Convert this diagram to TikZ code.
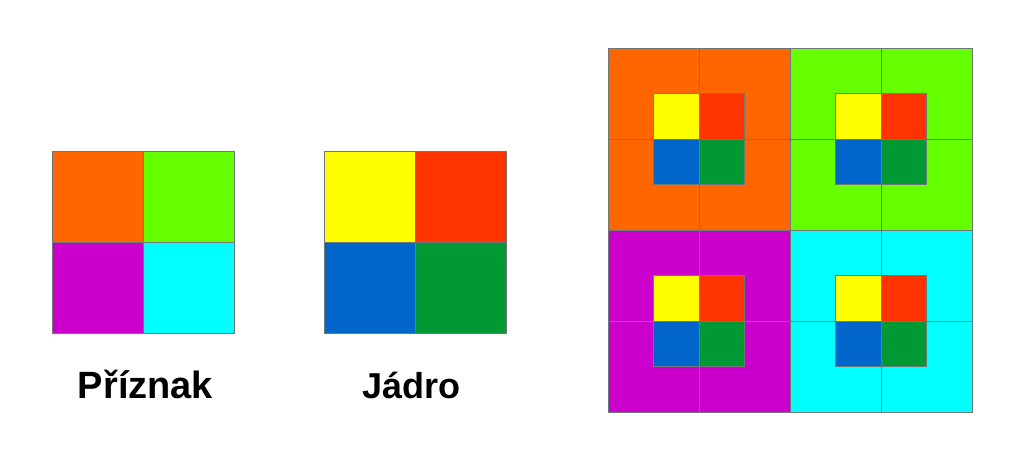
\documentclass[tikz,border=0pt]{standalone}
\usepackage{fontspec}
\setmainfont{Liberation Sans}
\usepackage{tikz}

\definecolor{priznakA}{HTML}{FF6600}
\definecolor{priznakB}{HTML}{66FF00}
\definecolor{priznakC}{HTML}{CC00CC}
\definecolor{priznakD}{HTML}{00FFFF}
\definecolor{jadroA}{HTML}{FFFF00}
\definecolor{jadroB}{HTML}{FF3300}
\definecolor{jadroC}{HTML}{0066CC}
\definecolor{jadroD}{HTML}{009933}
\definecolor{mrizka}{HTML}{6E7878}

\tikzset{
    bunka/.style={draw=mrizka, line width=0.8pt, minimum size=91pt, inner sep=0pt, outer sep=0pt},
    mala/.style={bunka, minimum size=45.5pt},
    popis/.style={font=\bfseries\fontsize{36}{40}\selectfont, anchor=base}
}

\begin{document}
\begin{tikzpicture}[x=1pt, y=-1pt]
    \useasboundingbox (0,0) rectangle (1024,465);
    % priznak
    \node[bunka, fill=priznakA] (PA) at (97.5,196.5) {};
    \node[bunka, fill=priznakB] (PB) at (188.5,196.5) {};
    \node[bunka, fill=priznakC] (PC) at (97.5,287.5) {};
    \node[bunka, fill=priznakD] (PD) at (188.5,287.5) {};
    \node[popis, font=\bfseries\fontsize{38}{42}\selectfont] (Ptext) at (145.5,398) {Příznak};
    % jadro
    \node[bunka, fill=jadroA] (JA) at (369.5,196.5) {};
    \node[bunka, fill=jadroB] (JB) at (460.5,196.5) {};
    \node[bunka, fill=jadroC] (JC) at (369.5,287.5) {};
    \node[bunka, fill=jadroD] (JD) at (460.5,287.5) {};
    \node[popis] (Jtext) at (411.5,398) {Jádro};
    % vysledek
    \foreach \i/\j/\c in {0/0/priznakA, 1/0/priznakB, 0/1/priznakC, 1/1/priznakD} {
        \foreach \u/\v in {0/0, 1/0, 0/1, 1/1}
            \node[bunka, fill=\c] (V\i\j\u\v) at (653.5+182*\i+91*\u, 93.5+182*\j+91*\v) {};
        \node[mala, fill=jadroA] (K\i\j A) at (676.25+182*\i, 116.25+182*\j) {};
        \node[mala, fill=jadroB] (K\i\j B) at (721.75+182*\i, 116.25+182*\j) {};
        \node[mala, fill=jadroC] (K\i\j C) at (676.25+182*\i, 161.75+182*\j) {};
        \node[mala, fill=jadroD] (K\i\j D) at (721.75+182*\i, 161.75+182*\j) {};
    }
\end{tikzpicture}
\end{document}
